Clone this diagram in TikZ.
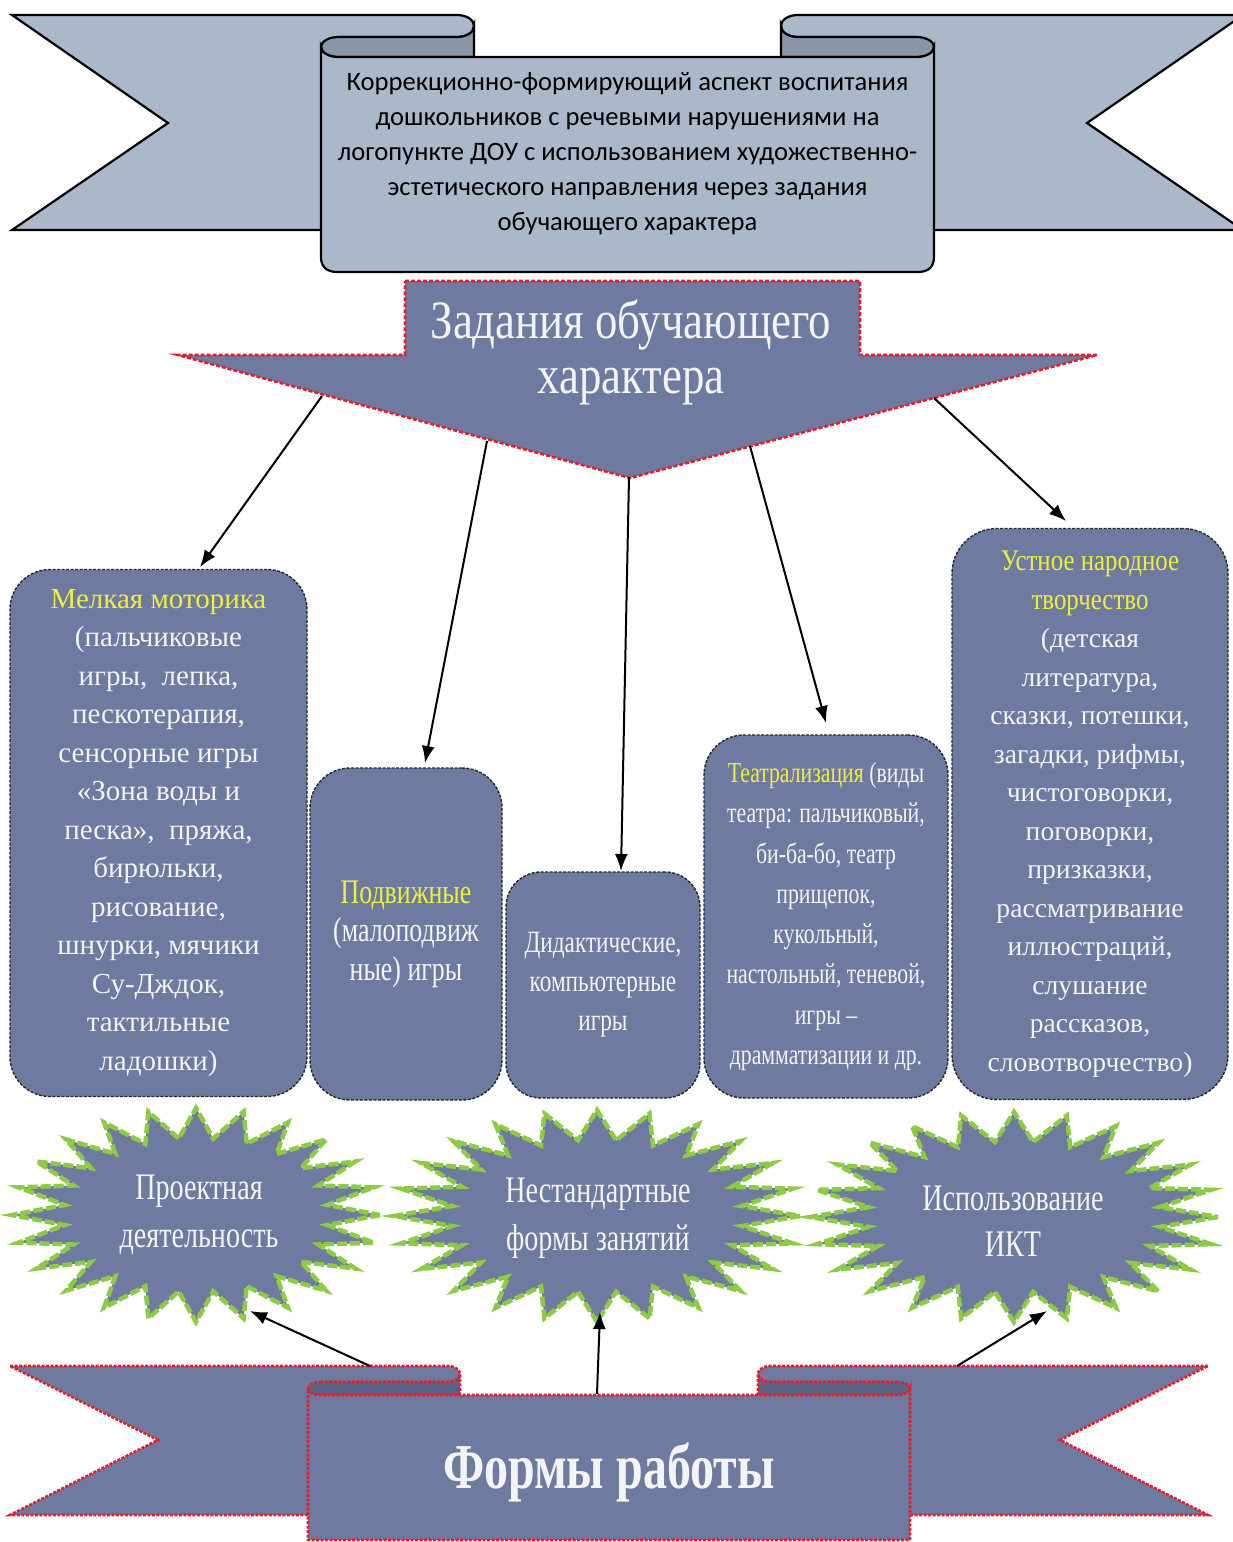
\documentclass[tikz,border=0pt]{standalone}
\usepackage{fontspec}
\setmainfont{Liberation Serif}
\newfontfamily\hdrfont{Carlito}
\newfontfamily\cndfont[FakeStretch=0.75]{Liberation Serif}
\newfontfamily\cndwfont[FakeStretch=0.83]{Liberation Serif}
\usetikzlibrary{arrows.meta,calc}
\definecolor{ribL}{HTML}{ABB8CA}
\definecolor{ribD}{HTML}{8A96A6}
\definecolor{slate}{HTML}{6F7AA0}
\definecolor{slateD}{HTML}{5A6488}
\definecolor{ylw}{HTML}{F0F03C}
\definecolor{grn}{HTML}{8DCB45}
\definecolor{redd}{HTML}{E0202A}
\definecolor{txtw}{HTML}{F4F4F4}
\newcommand\mystarburst[4]{%
  \fill[slate] plot[samples=49,domain=0:360,variable=\t]
    ({#1+#3*(0.86+0.14*cos(24*\t))*cos(\t)},{#2+#4*(0.86+0.14*cos(24*\t))*sin(\t)}) -- cycle;
  \draw[grn,line width=4.5,dash pattern=on 10pt off 3pt,line join=miter] plot[samples=49,domain=0:360,variable=\t]
    ({#1+#3*(0.86+0.14*cos(24*\t))*cos(\t)},{#2+#4*(0.86+0.14*cos(24*\t))*sin(\t)}) -- cycle;}
\begin{document}
\begin{tikzpicture}[x=1pt,y=-1pt,
  ribtop/.style={line width=2.2,draw=black,line join=miter},
  ribbot/.style={line width=2.6,draw=redd,dash pattern=on 3pt off 1.5pt,line join=miter},
  boxst/.style={draw=black!85,line width=1.4,dash pattern=on 3pt off 1.5pt,fill=slate,rounded corners=#1,inner sep=0pt,text=txtw,align=center},
  boxst/.default=40,
  arr/.style={line width=2,-{Latex[length=17pt,width=13pt]}},
  lbl/.style={text=txtw,align=center,inner sep=0pt}]
\useasboundingbox (0,0) rectangle (1232,1542);
% ===== top ribbon =====
\draw[ribtop,fill=ribL] (12,15) -- (457,15) .. controls (467,15) and (474,20) .. (474,26) .. controls (474,32) and (467,37) .. (457,37) -- (340,37) -- (340,230) -- (12,230) -- (168,123) -- cycle;
\draw[ribtop,fill=ribL] (1243,15) -- (798,15) .. controls (788,15) and (781,20) .. (781,26) .. controls (781,32) and (788,37) .. (798,37) -- (915,37) -- (915,230) -- (1243,230) -- (1087,123) -- cycle;
\draw[ribtop,fill=ribD] (338,37) -- (457,37) .. controls (467,37) and (474,32) .. (474,26) -- (474,57) -- (338,57) .. controls (329,57) and (321,52.5) .. (321,47) .. controls (321,41.5) and (329,37) .. (338,37) -- cycle;
\draw[ribtop,fill=ribD] (917,37) -- (798,37) .. controls (788,37) and (781,32) .. (781,26) -- (781,57) -- (917,57) .. controls (926,57) and (934,52.5) .. (934,47) .. controls (934,41.5) and (926,37) .. (917,37) -- cycle;
\draw[ribtop,fill=ribL] (321,47) .. controls (321,52.5) and (329,57) .. (338,57) -- (917,57) .. controls (926,57) and (934,52.5) .. (934,47) -- (934,257) .. controls (934,267) and (928,272) .. (918,272) -- (337,272) .. controls (327,272) and (321,267) .. (321,257) -- cycle;
\node[align=center,inner sep=0pt,font=\hdrfont\fontsize{26.6}{35}\selectfont] (hdr) at (627.5,154)
 {Коррекционно-формирующий аспект воспитания\\дошкольников с речевыми нарушениями на\\логопункте ДОУ с использованием художественно-\\эстетического направления через задания\\обучающего характера};
% ===== big arrow =====
\draw[line width=2.6,draw=redd,dash pattern=on 4pt off 2pt,fill=slate,line join=miter]
 (405,281) -- (860,281) -- (860,355) -- (1097,355) -- (630,478) -- (178,355) -- (405,355) -- cycle;
\node[lbl,font=\cndwfont\fontsize{54}{55}\selectfont] (tasks) at (631,352) {Задания обучающего\\характера};
\coordinate (s1) at (322,396);
\coordinate (s2) at (487,441);
\coordinate (s3) at (629,477);
\coordinate (s4) at (750,446);
\coordinate (s5) at (934,398);
% ===== boxes =====
\node[boxst=40,minimum width=297,minimum height=527,font=\fontsize{29}{38.5}\selectfont] (b1) at (158.5,833)
 {{\color{ylw}Мелкая моторика}\\(пальчиковые\\игры,\ \ лепка,\\пескотерапия,\\сенсорные игры\\«Зона воды и\\песка»,\ \ пряжа,\\бирюльки,\\рисование,\\шнурки, мячики\\Су-Дждок,\\тактильные\\ладошки)};
\node[boxst=40,minimum width=192,minimum height=332,font=\cndfont\fontsize{34.5}{38.5}\selectfont] (b2) at (406,934)
 {{\color{ylw}Подвижные}\\(малоподвиж\\ные) игры};
\node[boxst=35,minimum width=194,minimum height=226,font=\cndfont\fontsize{31}{39}\selectfont] (b3) at (603,985)
 {Дидактические,\\компьютерные\\игры};
\node[boxst=40,minimum width=244,minimum height=363,font=\cndfont\fontsize{29}{40.3}\selectfont] (b4) at (826,916.5)
 {{\color{ylw}Театрализация} (виды\\театра: пальчиковый,\\би-ба-бо, театр\\прищепок,\\кукольный,\\настольный, теневой,\\игры –\\драмматизации и др.};
\node[boxst=45,minimum width=276,minimum height=571,font=\fontsize{27.6}{38.5}\selectfont] (b5) at (1090,814)
 {{\color{ylw}\cndwfont\fontsize{30}{38.5}\selectfont Устное народное}\\{\color{ylw}\cndwfont\fontsize{30}{38.5}\selectfont творчество}\\(детская\\литература,\\сказки, потешки,\\загадки, рифмы,\\чистоговорки,\\поговорки,\\призказки,\\рассматривание\\иллюстраций,\\слушание\\рассказов,\\словотворчество)};
\coordinate (e1) at (200,567);
\coordinate (e2) at (425,763);
\coordinate (e3) at (621,871);
\coordinate (e4) at (826,723);
\coordinate (e5) at (1066,521);
\draw[arr] (s1) -- (e1);
\draw[arr] (s2) -- (e2);
\draw[arr] (s3) -- (e3);
\draw[arr] (s4) -- (e4);
\draw[arr] (s5) -- (e5);
% ===== stars =====
\mystarburst{196}{1215}{184}{107}
\mystarburst{597}{1216}{203}{106}
\mystarburst{1014}{1217}{204}{105}
\node[lbl,font=\cndfont\fontsize{37.5}{48}\selectfont] (st1) at (199,1215) {Проектная\\деятельность};
\node[lbl,font=\cndfont\fontsize{37.5}{48}\selectfont] (st2) at (598,1218) {Нестандартные\\формы занятий};
\node[lbl,font=\cndfont\fontsize{37.5}{46}\selectfont] (st3) at (1013,1221) {Использование\\ИКТ};
\coordinate (t1) at (250,1311);
\coordinate (t2) at (600,1312);
\coordinate (t3) at (1047,1311);
% ===== bottom ribbon =====
\draw[ribbot,fill=slate] (10,1366) -- (448,1366) .. controls (455,1366) and (460,1370) .. (460,1374) .. controls (460,1378) and (455,1382) .. (448,1382) -- (330,1382) -- (330,1515) -- (10,1515) -- (158,1440) -- cycle;
\draw[ribbot,fill=slate] (1208,1366) -- (770,1366) .. controls (763,1366) and (758,1370) .. (758,1374) .. controls (758,1378) and (763,1382) .. (770,1382) -- (888,1382) -- (888,1515) -- (1208,1515) -- (1060,1440) -- cycle;
\draw[ribbot,fill=slateD] (320,1382) -- (448,1382) .. controls (455,1382) and (460,1378) .. (460,1374) -- (460,1395) -- (320,1395) .. controls (313,1395) and (308,1392) .. (308,1388.5) .. controls (308,1385) and (313,1382) .. (320,1382) -- cycle;
\draw[ribbot,fill=slateD] (898,1382) -- (770,1382) .. controls (763,1382) and (758,1378) .. (758,1374) -- (758,1395) -- (898,1395) .. controls (905,1395) and (910,1392) .. (910,1388.5) .. controls (910,1385) and (905,1382) .. (898,1382) -- cycle;
\draw[ribbot,fill=slate] (308,1388.5) .. controls (308,1392) and (313,1395) .. (320,1395) -- (898,1395) .. controls (905,1395) and (910,1392) .. (910,1388.5) -- (910,1540) -- (308,1540) -- cycle;
\node[lbl,font=\cndfont\bfseries\fontsize{64}{66}\selectfont] (forms) at (609,1472) {Формы работы};
\coordinate (f1) at (370,1366);
\coordinate (f2) at (597,1394);
\coordinate (f3) at (957,1366);
\draw[arr] (f1) -- (t1);
\draw[arr] (f2) -- (t2);
\draw[arr] (f3) -- (t3);
\end{tikzpicture}
\end{document}
